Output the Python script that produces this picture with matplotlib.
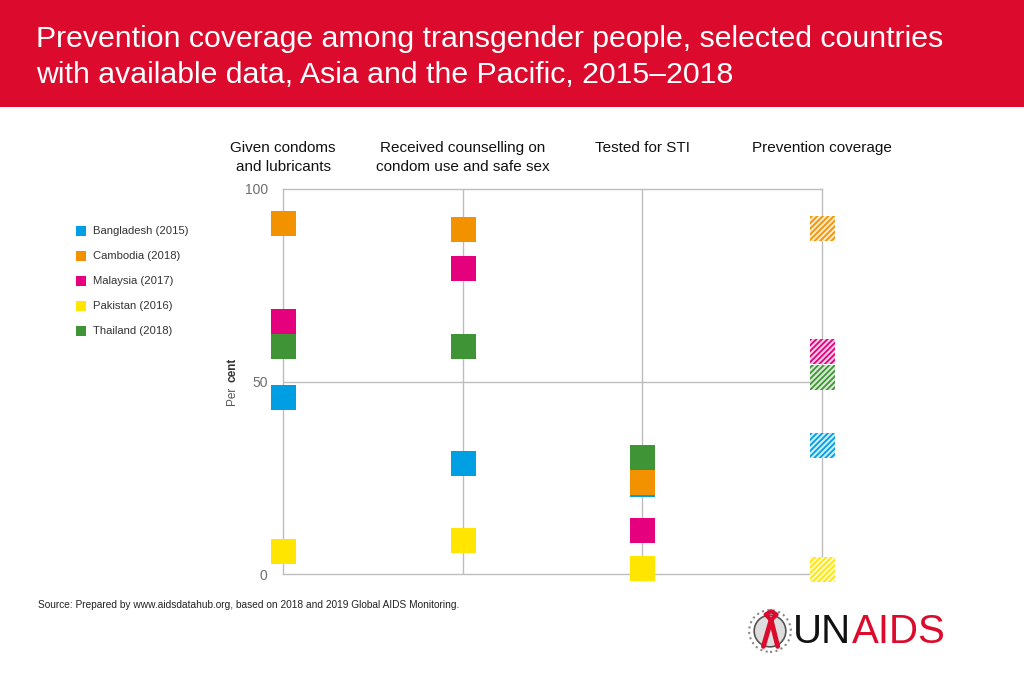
import matplotlib
matplotlib.use("Agg")
import matplotlib.pyplot as plt
import matplotlib.colors as mcolors
import matplotlib.transforms as mtransforms
from matplotlib.patches import Circle, Rectangle

plt.rcParams['font.family'] = ['Liberation Sans', 'DejaVu Sans']
plt.rcParams['hatch.linewidth'] = 1.3

# ---- data ----
indicators = ["Given condoms\nand lubricants",
              "Received counselling on\ncondom use and safe sex",
              "Tested for STI",
              "Prevention coverage"]
countries = ["Bangladesh (2015)", "Cambodia (2018)", "Malaysia (2017)",
             "Pakistan (2016)", "Thailand (2018)"]
colors = ["#009FE3", "#F39200", "#E5007E", "#FFE500", "#3F9535"]

bangladesh = [46.1, 28.8, 23.3, 33.3]
cambodia   = [91.1, 89.6, 23.8, 89.7]
malaysia   = [65.6, 79.6, 11.5, 57.7]
pakistan   = [6.1, 8.9, 1.5, 1.1]
thailand   = [59.1, 59.1, 30.5, 51.1]
series = [bangladesh, cambodia, malaysia, pakistan, thailand]

yticks = [0, 50, 100]
ytick_labels = ["0", "50", "100"]

W, H = 1024, 682
def fx(px): return px / W
def fy(py): return 1 - py / H

# ---- figure ----
fig = plt.figure(figsize=(10.24, 6.82), dpi=100)
fig.patch.set_facecolor("white")

# header band
fig.patches.append(Rectangle((0, fy(107)), 1, 107 / H, transform=fig.transFigure,
                             facecolor="#DC0A2C", edgecolor="none", zorder=0))
fig.text(fx(36), fy(57),
         "Prevention coverage among transgender people, selected countries\n"
         "with available data, Asia and the Pacific, 2015\u20132018",
         color="white", fontsize=21.8, va="center", ha="left", linespacing=1.32)

ax = fig.add_axes([fx(283), fy(574), (822 - 283) / W, (574 - 189) / H])
ax.set_xlim(0, 3)
ax.set_ylim(0, 100)
grid_c = "#BDBDBD"
for s in ax.spines.values():
    s.set_color(grid_c)
    s.set_linewidth(1.0)
ax.set_xticks([0, 1, 2, 3])
ax.set_xticklabels([])
ax.tick_params(axis="x", length=0)
ax.set_yticks(yticks)
ax.set_yticklabels(ytick_labels, fontsize=10, color="#6E6E6E")
ax.tick_params(axis="y", length=0, pad=11)
for x in [1, 2]:
    ax.axvline(x, color=grid_c, lw=1.0, zorder=1)
ax.axhline(50, color=grid_c, lw=1.0, zorder=1)

xs = list(range(len(indicators)))
msize = 25 ** 2 * (72 / 100) ** 2  # ~25 px squares
for vals, c, name in zip(series, colors, countries):
    ax.scatter(xs[:3], vals[:3], marker="s", s=msize, color=c, linewidths=0,
               zorder=3, clip_on=False, label=name)
    light = mcolors.to_rgba(c)
    face = tuple(1 - 0.2 * (1 - v) for v in light[:3]) + (1,)
    ax.scatter(xs[3:], vals[3:], marker="s", s=msize, facecolor=face, edgecolor=c,
               linewidths=0, hatch="//////", zorder=3, clip_on=False)

# column headers (top-aligned above the plot)
hdr_tr = mtransforms.blended_transform_factory(ax.transData, fig.transFigure)
for x, lab in zip(xs, indicators):
    ax.text(x, fy(141), lab, transform=hdr_tr,
            ha="center", va="top", fontsize=11, color="#111111", linespacing=1.42)

# y-axis label: "Per" regular + "cent" bold
fig.text(fx(232), fy(396), "Per", rotation=90, fontsize=8.5, color="#555555",
         ha="center", va="center")
fig.text(fx(232), fy(370), "cent", rotation=90, fontsize=8.5, color="#333333",
         fontweight="bold", ha="center", va="center")

# legend (manual)
leg_y = [231, 256, 281, 306, 331]
for yy, c, name in zip(leg_y, colors, countries):
    fig.patches.append(Rectangle((fx(76), fy(yy + 5)), 10 / W, 10 / H,
                                 transform=fig.transFigure, facecolor=c, edgecolor="none"))
    fig.text(fx(93), fy(yy), name, fontsize=8.1, color="#333333",
             ha="left", va="center")

# source
fig.text(fx(38), fy(605),
         "Source: Prepared by www.aidsdatahub.org, based on 2018 and 2019 Global AIDS Monitoring.",
         fontsize=7.3, color="#222222", ha="left", va="center")

# UNAIDS logo (simplified)
logo_ax = fig.add_axes([fx(748), fy(653), 44 / W, 44 / H])
logo_ax.set_xlim(-1, 1); logo_ax.set_ylim(-1, 1); logo_ax.axis("off")
logo_ax.add_patch(Circle((0, 0), 0.72, facecolor="#DDDDDD", edgecolor="#555555", lw=1.2))
logo_ax.add_patch(Circle((0, 0), 0.95, facecolor="none", edgecolor="#888888", lw=1.5, ls=":"))
logo_ax.plot([-0.3, 0.05, 0.35], [-0.7, 0.5, -0.7], color="#DC0A2C", lw=3.5, solid_capstyle="round")
logo_ax.plot([0.05, -0.2, 0.05, 0.3, 0.05], [0.5, 0.75, 0.9, 0.75, 0.5], color="#DC0A2C", lw=3)
fig.text(fx(851), fy(632), "UN", fontsize=29, color="#111111", ha="right", va="center")
fig.text(fx(852), fy(632), "AIDS", fontsize=29, color="#DC0A2C", ha="left", va="center")

fig.savefig("out.png", dpi=100, facecolor="white")
